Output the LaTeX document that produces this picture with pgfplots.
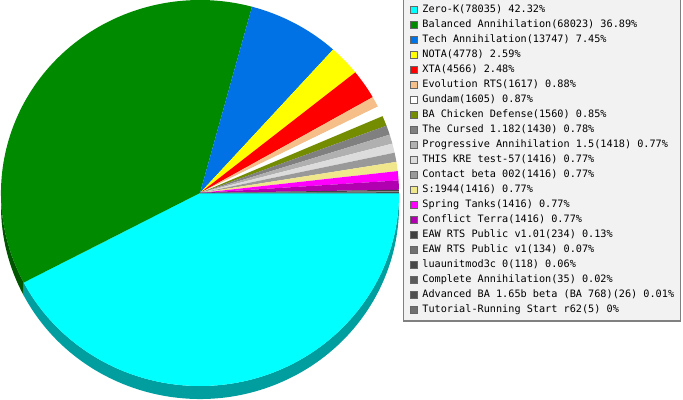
\documentclass[border=0pt]{standalone}
\usepackage{pgfplots}
\pgfplotsset{compat=1.18}
\usepackage{pgfplotstable}
\usepackage{fontspec}
\setmonofont{DejaVu Sans Mono}

% slice colours
\definecolor{zk}{HTML}{00FFFF}
\definecolor{ba}{HTML}{008A00}
\definecolor{tech}{HTML}{0072E6}
\definecolor{nota}{HTML}{FFFF00}
\definecolor{xta}{HTML}{FF0000}
\definecolor{evo}{HTML}{F6BE88}
\definecolor{gundam}{HTML}{FFFFFF}
\definecolor{chicken}{HTML}{748C00}
\definecolor{cursed}{HTML}{808080}
\definecolor{progr}{HTML}{B0B0B0}
\definecolor{kre}{HTML}{DCDCDC}
\definecolor{contact}{HTML}{999999}
\definecolor{ww}{HTML}{F0E68C}
\definecolor{tanks}{HTML}{FF00FF}
\definecolor{terra}{HTML}{B000B0}
\definecolor{eawa}{HTML}{404040}
\definecolor{eawb}{HTML}{707070}
\definecolor{lua}{HTML}{484848}
\definecolor{compl}{HTML}{5A5A5A}
\definecolor{advba}{HTML}{505050}
\definecolor{tut}{HTML}{707070}

% share in percent, as given in the legend
\pgfplotstableread{
pct   col
42.32 zk
36.89 ba
7.45  tech
2.59  nota
2.48  xta
0.88  evo
0.87  gundam
0.85  chicken
0.78  cursed
0.77  progr
0.77  kre
0.77  contact
0.77  ww
0.77  tanks
0.77  terra
0.13  eawa
0.07  eawb
0.06  lua
0.02  compl
0.01  advba
0.00  tut
}\piedata

\def\cx{200}\def\cy{207}
\def\rx{199}\def\ry{193}
\def\depth{13}

\begin{document}
\begin{tikzpicture}
\begin{axis}[
    hide axis, scale only axis,
    width=683bp, height=400bp,
    xmin=0, xmax=683, ymin=0, ymax=400,
    clip=false,
    legend style={
        at={(403/683,1.004)}, anchor=north west,
        draw=black!50, line width=1.2bp, fill=black!5,
        inner xsep=6.5bp, inner ysep=6bp,
        font=\fontsize{10.2bp}{12bp}\ttfamily,
        nodes={inner sep=0pt, text height=7.5bp, text depth=2.5bp},
        row sep=5bp, column sep=4.5bp,
    },
    legend cell align=left,
    legend image code/.code={
        \draw[#1, draw=black!60, line width=0.8bp] (0bp,-3.5bp) rectangle (7bp,3.5bp);
    },
]

\pgfplotsextra{
  \pgfplotstablegetrowsof{\piedata}
  \pgfmathtruncatemacro\nrows{\pgfplotsretval-1}
  % side wall of the lower half first
  \xdef\cum{0}
  \foreach \i in {0,...,\nrows} {
    \pgfplotstablegetelem{\i}{pct}\of\piedata \let\val\pgfplotsretval
    \pgfplotstablegetelem{\i}{col}\of\piedata \let\col\pgfplotsretval
    \pgfmathsetmacro\aone{-3.6*\cum}
    \pgfmathsetmacro\atwo{-3.6*(\cum+\val)}
    \pgfmathsetmacro\s{min(\aone,0)}
    \pgfmathsetmacro\e{max(\atwo,-180)}
    \pgfmathparse{\s>\e ? 1 : 0}
    \ifnum\pgfmathresult=1
      \fill[\col!62!black] (axis cs:{\cx+\rx*cos(\s)},{\cy+\ry*sin(\s)})
        arc[start angle=\s, end angle=\e, x radius=\rx bp, y radius=\ry bp]
        -- ++(0,-\depth bp)
        arc[start angle=\e, end angle=\s, x radius=\rx bp, y radius=\ry bp]
        -- cycle;
    \fi
    \pgfmathsetmacro\newcum{\cum+\val}
    \xdef\cum{\newcum}
  }
  % top faces
  \xdef\cum{0}
  \foreach \i in {0,...,\nrows} {
    \pgfplotstablegetelem{\i}{pct}\of\piedata \let\val\pgfplotsretval
    \pgfplotstablegetelem{\i}{col}\of\piedata \let\col\pgfplotsretval
    \pgfmathsetmacro\aone{-3.6*\cum}
    \pgfmathsetmacro\atwo{-3.6*(\cum+\val)}
    \fill[\col] (axis cs:\cx,\cy)
      -- (axis cs:{\cx+\rx*cos(\aone)},{\cy+\ry*sin(\aone)})
      arc[start angle=\aone, end angle=\atwo, x radius=\rx bp, y radius=\ry bp]
      -- cycle;
    \pgfmathsetmacro\newcum{\cum+\val}
    \xdef\cum{\newcum}
  }
}

\addlegendimage{fill=zk}      \addlegendentry{Zero-K(78035) 42.32\%}
\addlegendimage{fill=ba}      \addlegendentry{Balanced Annihilation(68023) 36.89\%}
\addlegendimage{fill=tech}    \addlegendentry{Tech Annihilation(13747) 7.45\%}
\addlegendimage{fill=nota}    \addlegendentry{NOTA(4778) 2.59\%}
\addlegendimage{fill=xta}     \addlegendentry{XTA(4566) 2.48\%}
\addlegendimage{fill=evo}     \addlegendentry{Evolution RTS(1617) 0.88\%}
\addlegendimage{fill=gundam}  \addlegendentry{Gundam(1605) 0.87\%}
\addlegendimage{fill=chicken} \addlegendentry{BA Chicken Defense(1560) 0.85\%}
\addlegendimage{fill=cursed}  \addlegendentry{The Cursed 1.182(1430) 0.78\%}
\addlegendimage{fill=progr}   \addlegendentry{Progressive Annihilation 1.5(1418) 0.77\%}
\addlegendimage{fill=kre}     \addlegendentry{THIS KRE test-57(1416) 0.77\%}
\addlegendimage{fill=contact} \addlegendentry{Contact beta 002(1416) 0.77\%}
\addlegendimage{fill=ww}      \addlegendentry{S:1944(1416) 0.77\%}
\addlegendimage{fill=tanks}   \addlegendentry{Spring Tanks(1416) 0.77\%}
\addlegendimage{fill=terra}   \addlegendentry{Conflict Terra(1416) 0.77\%}
\addlegendimage{fill=eawa}    \addlegendentry{EAW RTS Public v1.01(234) 0.13\%}
\addlegendimage{fill=eawb}    \addlegendentry{EAW RTS Public v1(134) 0.07\%}
\addlegendimage{fill=lua}     \addlegendentry{luaunitmod3c 0(118) 0.06\%}
\addlegendimage{fill=compl}   \addlegendentry{Complete Annihilation(35) 0.02\%}
\addlegendimage{fill=advba}   \addlegendentry{Advanced BA 1.65b beta (BA 768)(26) 0.01\%}
\addlegendimage{fill=tut}     \addlegendentry{Tutorial-Running Start r62(5) 0\%}
\end{axis}
\pgfresetboundingbox
\path (0,0) rectangle (683bp,400bp);
\end{tikzpicture}
\end{document}
